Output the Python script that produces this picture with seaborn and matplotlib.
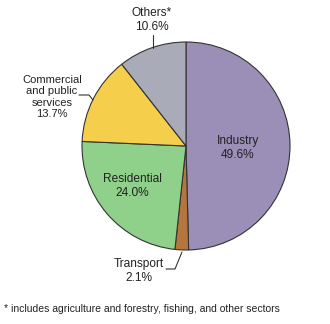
import matplotlib
matplotlib.use("Agg")
import matplotlib.pyplot as plt
import seaborn as sns

sns.set_theme(style="white")
plt.rcParams["font.family"] = ["Liberation Sans", "DejaVu Sans"]

sectors = ["Industry", "Transport", "Residential", "Commercial\nand public\nservices", "Others*"]
shares = [49.6, 2.1, 24.0, 13.7, 10.6]
colors = ["#9b8fb7", "#b4763c", "#8fd18b", "#f5cf4c", "#a9abb9"]
footnote = "* includes agriculture and forestry, fishing, and other sectors"

fig = plt.figure(figsize=(3.30, 3.24), dpi=100)
ax = fig.add_axes([0, 0, 1, 1])

wedges, _ = ax.pie(
    shares, colors=colors, startangle=90, counterclock=False,
    radius=1.0, wedgeprops=dict(edgecolor="#333333", linewidth=0.8),
)

# Axis limits chosen so the pie sits at the right spot in the frame
ax.set_xlim(-186 / 104, (330 - 186) / 104)
ax.set_ylim((146 - 324) / 104, 146 / 104)
ax.set_aspect("equal")
ax.axis("off")

def px(x, y):
    return ((x - 186) / 104, (146 - y) / 104)

fs = 8.6
txt = "#222222"
line_kw = dict(color="#333333", lw=0.8)

# Labels inside the large wedges
ax.text(*px(238, 148), f"{sectors[0]}\n{shares[0]:.1f}%", ha="center", va="center",
        fontsize=fs, color=txt, linespacing=1.2)
ax.text(*px(132, 186), f"{sectors[2]}\n{shares[2]:.1f}%", ha="center", va="center",
        fontsize=fs, color=txt, linespacing=1.2)

# Outside labels with leader lines
ax.text(*px(52, 97), f"{sectors[3]}\n{shares[3]:.1f}%", ha="center",
        va="center", fontsize=fs * 0.93, color=txt, linespacing=1.2)
ax.plot(*zip(px(79, 95), px(89, 95), px(93, 100)), **line_kw)

ax.text(*px(152, 20), f"{sectors[4]}\n{shares[4]:.1f}%", ha="center", va="center",
        fontsize=fs, color=txt, linespacing=1.2)
ax.plot(*zip(px(153, 35), px(153, 48)), **line_kw)

ax.text(*px(139, 271), f"{sectors[1]}\n{shares[1]:.1f}%", ha="center", va="center",
        fontsize=fs, color=txt, linespacing=1.2)
ax.plot(*zip(px(166, 269), px(175, 269), px(182, 252)), **line_kw)

fig.text(4 / 330, 1 - 309 / 324, footnote, ha="left", va="center", fontsize=7.5, color=txt)

fig.savefig("out.png", dpi=100)
